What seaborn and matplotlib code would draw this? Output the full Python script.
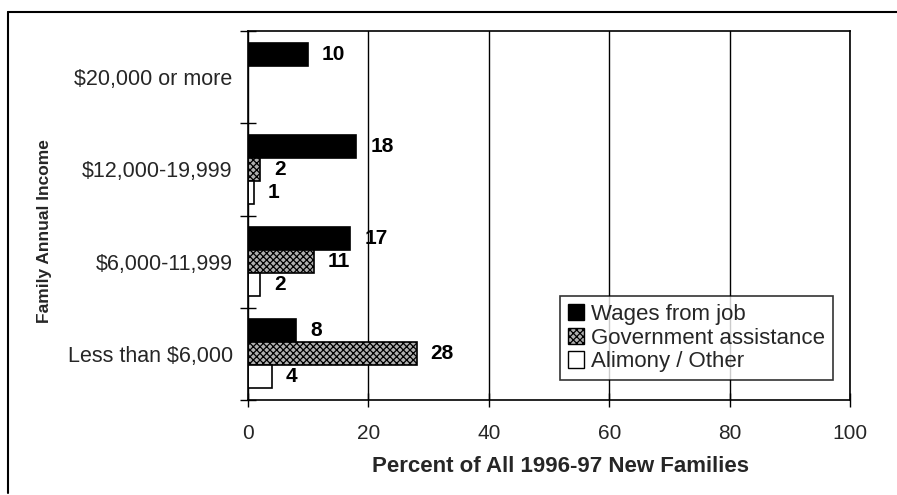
import numpy as np
import pandas as pd
import matplotlib
matplotlib.use("Agg")
import matplotlib.pyplot as plt
import seaborn as sns
from matplotlib.patches import Patch
from matplotlib.lines import Line2D

categories = ["$20,000 or more", "$12,000-19,999", "$6,000-11,999", "Less than $6,000"]
series = ["Wages from job", "Government assistance", "Alimony / Other"]
wages = [10, 18, 17, 8]
government = [np.nan, 2, 11, 28]
alimony = [np.nan, 1, 2, 4]
xticks = [0, 20, 40, 60, 80, 100]

rows = []
for s, vals in zip(series, [wages, government, alimony]):
    for c, v in zip(categories, vals):
        rows.append({"Income": c, "Source": s, "Percent": v})
df = pd.DataFrame(rows)

sns.set_theme(style="white")
plt.rcParams["font.family"] = ["Liberation Sans", "DejaVu Sans"]
plt.rcParams["hatch.linewidth"] = 0.9

fig = plt.figure(figsize=(8.97, 4.95), dpi=100)
ax = fig.add_axes([248 / 897, 1 - 400 / 495, (850 - 248) / 897, (400 - 31) / 495])

sns.barplot(data=df, y="Income", x="Percent", hue="Source", order=categories,
            hue_order=series, orient="h", ax=ax, width=0.75, legend=False,
            palette=["black", "white", "white"], saturation=1, errorbar=None)

styles = [dict(fc="black", hatch=None), dict(fc="#b0b0b0", hatch="xxxxx"), dict(fc="white", hatch=None)]
for cont, st in zip(ax.containers, styles):
    for p in cont.patches:
        p.set_facecolor(st["fc"])
        p.set_edgecolor("black")
        p.set_linewidth(1.2)
        if st["hatch"]:
            p.set_hatch(st["hatch"])
    ax.bar_label(cont, fmt="%g", padding=10, fontsize=15, fontweight="bold", color="black")

ax.set_xlim(0, 100)
ax.set_xticks(xticks)
ax.set_xticklabels([str(t) for t in xticks], fontsize=15)
ax.set_ylim(len(categories) - 0.5, -0.5)
ax.set_yticks(range(len(categories)))
ax.set_yticklabels(categories, fontsize=15.5)
ax.tick_params(axis="y", length=0, pad=11)
ax.set_yticks(np.arange(-0.5, len(categories), 1.0), minor=True)
ax.tick_params(axis="y", which="minor", direction="inout", length=12, width=1, color="black", left=True)
ax.tick_params(axis="x", direction="inout", length=10, width=1, color="black", bottom=True, pad=12)
ax.xaxis.grid(True, color="black", linewidth=1)
ax.yaxis.grid(False)
ax.set_axisbelow(True)
for sp in ax.spines.values():
    sp.set_visible(True)
    sp.set_color("black")
    sp.set_linewidth(1.2)
ax.set_xlabel("")
ax.set_ylabel("")

fig.text(560 / 897, 1 - 467 / 495, "Percent of All 1996-97 New Families", ha="center", va="center",
         fontsize=16, fontweight="bold")
fig.text(45 / 897, 1 - 231 / 495, "Family Annual Income", ha="center", va="center",
         fontsize=12.5, fontweight="bold", rotation=90)

handles = [Patch(facecolor=s["fc"], edgecolor="black", hatch=s["hatch"]) for s in styles]
leg = ax.legend(handles, series, loc="lower left", bbox_to_anchor=(0.518, 0.054), fontsize=16,
                frameon=True, fancybox=False, edgecolor="black", handlelength=0.75, handleheight=0.75,
                handletextpad=0.3, labelspacing=0.12, borderpad=0.35, borderaxespad=0)
leg.get_frame().set_linewidth(1.2)

fig.add_artist(Line2D([8 / 897, 8 / 897], [1 - 493 / 495, 1 - 12 / 495], color="black", linewidth=1.5))
fig.add_artist(Line2D([8 / 897, 1.0], [1 - 12 / 495, 1 - 12 / 495], color="black", linewidth=1.5))

fig.savefig("out.png", dpi=100)
